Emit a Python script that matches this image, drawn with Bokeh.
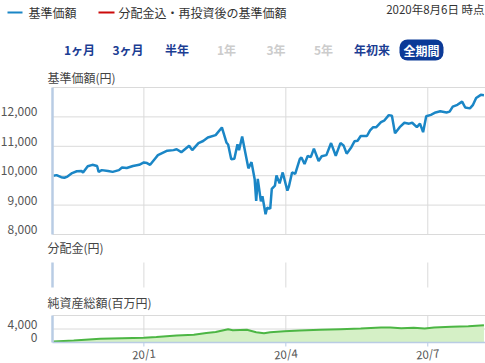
from datetime import datetime
import pandas as pd
from bokeh.plotting import figure
from bokeh.models import Range1d, BoxAnnotation
from bokeh.embed import file_html
from bokeh.resources import INLINE
from bokeh.core.properties import value

FONT = "Noto Sans CJK JP"
W, H = 485, 363

# ---------------- data ----------------
nav_dates = [
    "2019-11-04", "2019-11-06", "2019-11-09", "2019-11-11", "2019-11-13", "2019-11-16",
    "2019-11-19", "2019-11-22", "2019-11-23", "2019-11-26", "2019-11-29", "2019-12-02",
    "2019-12-03", "2019-12-05", "2019-12-09", "2019-12-12", "2019-12-16", "2019-12-18",
    "2019-12-21", "2019-12-25", "2019-12-29", "2020-01-01", "2020-01-03", "2020-01-05",
    "2020-01-08", "2020-01-10", "2020-01-16", "2020-01-20", "2020-01-22", "2020-01-25",
    "2020-01-30", "2020-02-01", "2020-02-05", "2020-02-08", "2020-02-11", "2020-02-16",
    "2020-02-20", "2020-02-23", "2020-02-24", "2020-02-26", "2020-02-28", "2020-03-01",
    "2020-03-02", "2020-03-04", "2020-03-06", "2020-03-08", "2020-03-10", "2020-03-12",
    "2020-03-13", "2020-03-14", "2020-03-16", "2020-03-17", "2020-03-19", "2020-03-20",
    "2020-03-22", "2020-03-23", "2020-03-25", "2020-03-26", "2020-03-28", "2020-03-30",
    "2020-04-02", "2020-04-03", "2020-04-05", "2020-04-07", "2020-04-10", "2020-04-11",
    "2020-04-13", "2020-04-15", "2020-04-17", "2020-04-19", "2020-04-22", "2020-04-24",
    "2020-04-27", "2020-04-30", "2020-05-03", "2020-05-06", "2020-05-08", "2020-05-10",
    "2020-05-13", "2020-05-15", "2020-05-17", "2020-05-19", "2020-05-23", "2020-05-25",
    "2020-05-27", "2020-05-29", "2020-06-01", "2020-06-03", "2020-06-06", "2020-06-08",
    "2020-06-10", "2020-06-13", "2020-06-16", "2020-06-19", "2020-06-21", "2020-06-24",
    "2020-06-26", "2020-06-28", "2020-06-30", "2020-07-03", "2020-07-06", "2020-07-09",
    "2020-07-13", "2020-07-15", "2020-07-17", "2020-07-20", "2020-07-23", "2020-07-25",
    "2020-07-28", "2020-07-30", "2020-08-01", "2020-08-04", "2020-08-06",
]
nav_values = [
    10000, 10020, 9950, 9930, 9970, 10090,
    10150, 10160, 10110, 10320, 10370, 10330,
    10130, 10190, 10160, 10130, 10190, 10280,
    10260, 10330, 10370, 10450, 10430, 10370,
    10570, 10700, 10850, 10870, 10900, 10800,
    11020, 10870, 11110, 11180, 11300, 11380,
    11640, 11120, 11060, 10560, 10580, 11070,
    10870, 11330, 10790, 10250, 10460, 9890,
    9140, 9890, 9130, 9300, 8690, 8910,
    8880, 9550, 9660, 10010, 9740, 10110,
    9490, 9640, 10110, 10060, 10570, 10620,
    10400, 10670, 10630, 10920, 10500, 10660,
    10700, 11110, 10680, 11110, 11030, 10750,
    10970, 11170, 11190, 11350, 11350, 11540,
    11650, 11650, 11820, 11870, 12060, 12040,
    11440, 11650, 11800, 11770, 11800, 11650,
    11770, 11480, 12020, 12070, 12150, 12190,
    12150, 12180, 12350, 12410, 12520, 12320,
    12290, 12410, 12640, 12750, 12740,
]
asset_dates = [
    "2019-11-04", "2019-11-17", "2019-12-04", "2020-01-01", "2020-01-09", "2020-01-22",
    "2020-02-02", "2020-02-10", "2020-02-16", "2020-02-24", "2020-02-27", "2020-03-07",
    "2020-03-13", "2020-03-18", "2020-03-22", "2020-03-31", "2020-04-10", "2020-04-23",
    "2020-05-06", "2020-05-19", "2020-06-01", "2020-06-07", "2020-06-14", "2020-06-22",
    "2020-06-29", "2020-07-05", "2020-07-16", "2020-07-27", "2020-08-06",
]
asset_values = [
    300, 600, 1100, 1400, 1600, 2100,
    2300, 2800, 3100, 3950, 3650, 3750,
    3050, 2750, 3050, 3350, 3550, 3750,
    3950, 4150, 4450, 4450, 4250, 4350,
    4150, 4450, 4650, 4830, 5130,
]
nav_ticks = [8000, 9000, 10000, 11000, 12000]
nav_top = 13000
asset_ticks = [0, 4000]
asset_top = 8000
month_ticks = ["2020-01-01", "2020-04-01", "2020-07-01"]
month_labels = ["20/1", "20/4", "20/7"]

legend_labels = ["基準価額", "分配金込・再投資後の基準価額"]
date_note = "2020年8月6日 時点"
buttons = ["1ヶ月", "3ヶ月", "半年", "1年", "3年", "5年", "年初来"]
buttons_active = [True, True, True, False, False, False, True]
selected_button = "全期間"
panel_titles = ["基準価額(円)", "分配金(円)", "純資産総額(百万円)"]

# ---------------- styles / layout (pixels) ----------------
BLUE = "#1a86c6"
RED = "#cc0a0a"
NAVY = "#1b3d93"
PILL = "#0b3a97"
GRID = "#dadada"
AXIS = "#b9cce4"
TXT = "#444444"
TICK_TXT = "#555555"
GREEN_LINE = "#4cb644"
GREEN_FILL = "#d5f0c6"

FL, FR = 52, 485                 # panel frame left / right
NAV_TOP, NAV_BOT = 87, 234       # main panel
DIST_TOP, DIST_BOT = 262, 287    # distribution panel
AS_TOP, AS_BOT = 315, 342        # net-asset panel

X_START = datetime(2019, 11, 3, 10)
X_END = datetime(2020, 8, 7, 0)


def ms(d):
    return pd.Timestamp(d).timestamp() * 1000.0


T0, T1 = ms(X_START), ms(X_END)
tspan = (T1 - T0) / (FR - FL)


def yrange(vb, vt, pb, pt):
    per = (vt - vb) / (pb - pt)
    return Range1d(vb - (H - pb) * per, vt + pt * per)


p = figure(width=W, height=H, x_range=Range1d(0, W), y_range=Range1d(H, 0),
           x_axis_type=None, y_axis_type=None, toolbar_location=None,
           output_backend="svg", min_border=0)
p.outline_line_color = None
p.grid.visible = False
p.extra_x_ranges = {"t": Range1d(T0 - FL * tspan, T1 + (W - FR) * tspan)}
p.extra_y_ranges = {
    "nav": yrange(8000, nav_top, NAV_BOT, NAV_TOP),
    "dist": yrange(0, 1, DIST_BOT, DIST_TOP),
    "asset": yrange(0, asset_top, AS_BOT, AS_TOP),
}

nav_x = pd.to_datetime(nav_dates)
asset_x = pd.to_datetime(asset_dates)
month_ms = [ms(d) for d in month_ticks]
NP = dict(x_range_name="t", y_range_name="nav")
DP = dict(x_range_name="t", y_range_name="dist")
AP = dict(x_range_name="t", y_range_name="asset")

# ---------------- header ----------------
p.segment(x0=[7, 98], y0=[12, 12], x1=[22, 114], y1=[12, 12],
          line_color=[BLUE, RED], line_width=2)
p.text(x=[28, 118], y=[12, 12], text=legend_labels, text_font=value(FONT),
       text_font_size="12px", text_color="#333333", text_baseline="middle")
p.text(x=[484], y=[8], text=[date_note], text_font=value(FONT), text_font_size="11.5px",
       text_color="#333333", text_baseline="middle", text_align="right")
bx = [79, 127.5, 176.5, 226, 275.5, 323, 371.5]
p.text(x=bx, y=[49] * len(bx), text=buttons, text_font=value(FONT), text_font_size="12px",
       text_font_style="bold",
       text_color=[NAVY if a else "#cccccc" for a in buttons_active],
       text_baseline="middle", text_align="center")
p.add_layout(BoxAnnotation(left=399, right=443, top=39, bottom=60, fill_color=PILL,
                           fill_alpha=1, line_color=None, border_radius=8, level="underlay"))
p.text(x=[421], y=[49.5], text=[selected_button], text_font=value(FONT), text_font_size="12px",
       text_font_style="bold", text_color="white", text_baseline="middle", text_align="center")
p.text(x=[47, 47, 47], y=[77, 247, 302], text=panel_titles, text_font=value(FONT),
       text_font_size="12px", text_color=TXT, text_baseline="middle")

# ---------------- main NAV panel ----------------
hticks = nav_ticks + [nav_top]
p.segment(x0=[T0] * len(hticks), x1=[T1] * len(hticks), y0=hticks, y1=hticks,
          line_color=GRID, line_width=1, **NP)
p.segment(x0=month_ms, x1=month_ms, y0=[8000] * 3, y1=[nav_top] * 3,
          line_color=GRID, line_width=1, **NP)
p.line(nav_x, nav_values, line_color=BLUE, line_width=2.5, **NP)
p.segment(x0=[T0], x1=[T0], y0=[8000], y1=[nav_top], line_color=AXIS, line_width=2.5, **NP)
p.text(x=[T0] * len(nav_ticks), y=nav_ticks, text=[f"{t:,}" for t in nav_ticks],
       x_offset=-15, y_offset=-5, text_align="right", text_baseline="middle",
       text_font=value(FONT), text_font_size="12px", text_color=TICK_TXT, **NP)

# ---------------- distribution panel ----------------
p.segment(x0=month_ms, x1=month_ms, y0=[0] * 3, y1=[1] * 3,
          line_color=GRID, line_width=1, **DP)
p.segment(x0=[T0], x1=[T0], y0=[0], y1=[1], line_color=AXIS, line_width=2.5, **DP)

# ---------------- net assets panel ----------------
aticks = asset_ticks[1:] + [asset_top]
p.segment(x0=[T0] * len(aticks), x1=[T1] * len(aticks), y0=aticks, y1=aticks,
          line_color=GRID, line_width=1, **AP)
p.segment(x0=month_ms, x1=month_ms, y0=[0] * 3, y1=[asset_top] * 3,
          line_color=GRID, line_width=1, **AP)
p.varea(x=asset_x, y1=0, y2=asset_values, fill_color=GREEN_FILL, **AP)
p.line(asset_x, asset_values, line_color=GREEN_LINE, line_width=2, **AP)
p.segment(x0=[T0], x1=[T1], y0=[0], y1=[0], line_color=AXIS, line_width=1.5, **AP)
p.segment(x0=[T0], x1=[T0], y0=[0], y1=[asset_top], line_color=AXIS, line_width=2.5, **AP)
tick_len = 4 * asset_top / (AS_BOT - AS_TOP)
p.segment(x0=month_ms, x1=month_ms, y0=[0] * 3, y1=[-tick_len] * 3,
          line_color=AXIS, line_width=1, **AP)
p.text(x=[T0] * len(asset_ticks), y=asset_ticks, text=[f"{t:,}" for t in asset_ticks],
       x_offset=-15, y_offset=-5, text_align="right", text_baseline="middle",
       text_font=value(FONT), text_font_size="12px", text_color=TICK_TXT, **AP)
p.text(x=month_ms, y=[0] * 3, text=month_labels, y_offset=11, angle=0.08,
       text_align="center", text_baseline="middle",
       text_font=value(FONT), text_font_size="11.5px", text_color=TICK_TXT, **AP)

open("out.html", "w").write(file_html(p, INLINE))
